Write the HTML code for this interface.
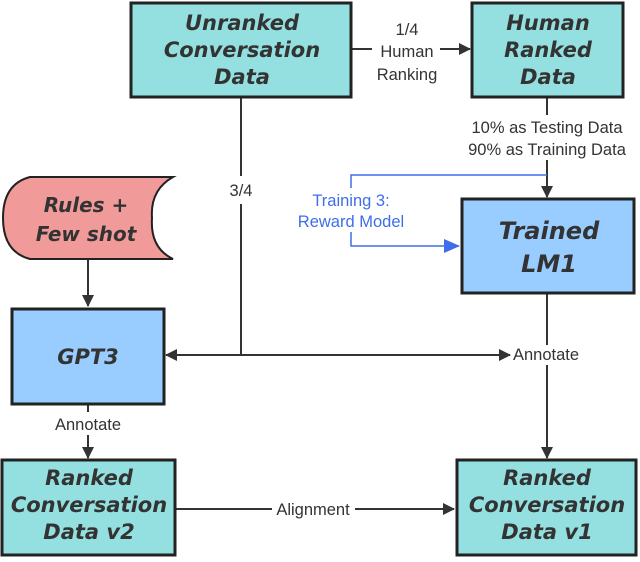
<!DOCTYPE html>
<html><head><style>
body{margin:0;background:#fff}
svg text{font-family:"DejaVu Sans","Liberation Sans",sans-serif}
.b{font-weight:bold;font-style:italic;fill:#333;font-size:21px}
.l text{font-family:"Liberation Sans",sans-serif;font-size:16.5px;fill:#333}
</style></head><body>
<svg width="640" height="557" viewBox="0 0 640 557" xmlns="http://www.w3.org/2000/svg">
<defs>
<marker id="a" markerWidth="12" markerHeight="12" refX="11" refY="6" orient="auto" markerUnits="userSpaceOnUse"><path d="M0,0L12,6L0,12z" fill="#333"/></marker>
<marker id="ab" markerWidth="16" markerHeight="14" refX="15" refY="7" orient="auto" markerUnits="userSpaceOnUse"><path d="M0,0L16,7L0,14z" fill="#3f6ee8"/></marker>
</defs>
<g stroke="#333" stroke-width="2" fill="none">
<line x1="351" y1="49" x2="372" y2="49"/>
<line x1="440" y1="49" x2="470" y2="49" marker-end="url(#a)"/>
<line x1="547" y1="97" x2="547" y2="115"/>
<line x1="547" y1="160" x2="547" y2="197" marker-end="url(#a)"/>
<line x1="241" y1="97" x2="241" y2="176"/>
<line x1="241" y1="204" x2="241" y2="355"/>
<line x1="241" y1="355" x2="166" y2="355" marker-end="url(#a)"/>
<line x1="241" y1="355" x2="510" y2="355" marker-end="url(#a)"/>
<line x1="547" y1="293" x2="547" y2="345"/>
<line x1="547" y1="365" x2="547" y2="458" marker-end="url(#a)"/>
<line x1="88" y1="259" x2="88" y2="306" marker-end="url(#a)"/>
<line x1="88" y1="404" x2="88" y2="412"/>
<line x1="88" y1="435" x2="88" y2="458" marker-end="url(#a)"/>
<line x1="175" y1="509" x2="272" y2="509"/>
<line x1="355" y1="509" x2="454" y2="509" marker-end="url(#a)"/>
</g>
<g stroke="#3f6ee8" stroke-width="1.5" fill="none">
<polyline points="351,188 351,175 547,175"/>
<polyline points="351,232 351,246 459,246" marker-end="url(#ab)"/>
</g>
<g stroke="#222" stroke-width="3">
<rect x="131" y="3" width="220" height="94" fill="#94e0e0"/>
<rect x="472" y="3" width="151" height="94" fill="#94e0e0"/>
<rect x="462" y="199" width="172" height="94" fill="#99ccff"/>
<rect x="12" y="309" width="152" height="95" fill="#99ccff"/>
<rect x="2" y="460" width="173" height="95" fill="#94e0e0"/>
<rect x="457" y="460" width="179" height="95" fill="#94e0e0"/>
</g>
<path d="M30,177 L173,177 Q150,190 152,218 Q150,248 173,259 L30,259 Q3,252 3,218 Q3,184 30,177Z" fill="#f19a9a" stroke="#222" stroke-width="2"/>
<g class="b" text-anchor="middle">
<text x="242" y="30">Unranked</text><text x="242" y="57">Conversation</text><text x="242" y="84">Data</text>
<text x="548" y="30">Human</text><text x="548" y="57">Ranked</text><text x="548" y="84">Data</text>
<text x="549" y="239" font-size="24">Trained</text><text x="549" y="272" font-size="24">LM1</text>
<text x="86" y="212" font-size="20">Rules +</text><text x="86" y="241" font-size="20">Few shot</text>
<text x="88" y="364">GPT3</text>
<text x="89" y="485">Ranked</text><text x="89" y="512">Conversation</text><text x="89" y="539">Data v2</text>
<text x="547" y="485">Ranked</text><text x="547" y="512">Conversation</text><text x="547" y="539">Data v1</text>
</g>
<g class="l" text-anchor="middle">
<text x="407" y="35">1/4</text><text x="407" y="57">Human</text><text x="407" y="80">Ranking</text>
<text x="547" y="133">10% as Testing Data</text><text x="547" y="155">90% as Training Data</text>
<text x="241" y="196">3/4</text>
<text x="351" y="206" style="fill:#3f6ee8">Training 3:</text><text x="351" y="227" style="fill:#3f6ee8">Reward Model</text>
<text x="546" y="360">Annotate</text>
<text x="88" y="430">Annotate</text>
<text x="313" y="515">Alignment</text>
</g>
</svg>
</body></html>
